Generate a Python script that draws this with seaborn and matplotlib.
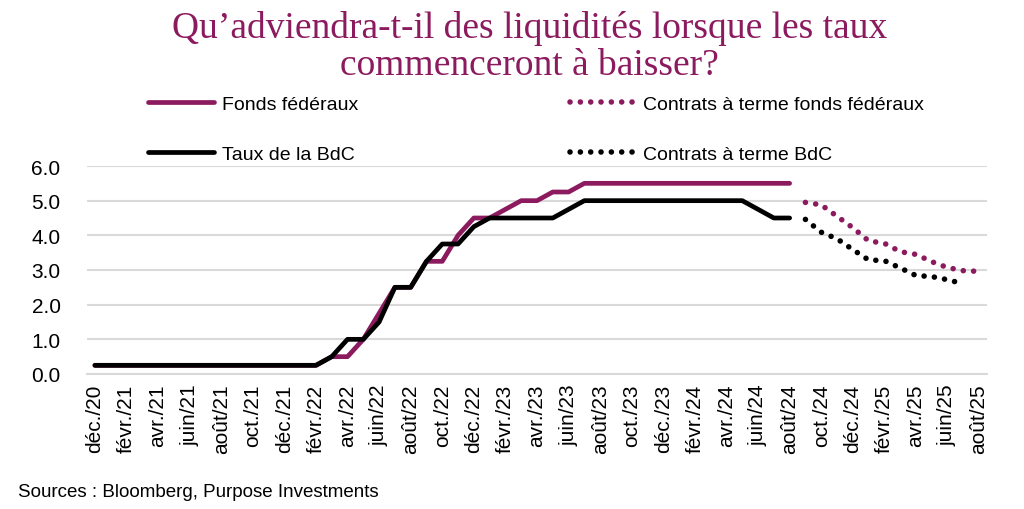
import matplotlib
matplotlib.use("Agg")
import matplotlib.pyplot as plt
import seaborn as sns
import pandas as pd

# ------------------------------------------------------------
# DONNEES (mensuel dec. 2020 -> aout 2025)
# ------------------------------------------------------------
TICK_LABELS = [
    "déc./20", "févr./21", "avr./21", "juin/21", "août/21", "oct./21",
    "déc./21", "févr./22", "avr./22", "juin/22", "août/22", "oct./22",
    "déc./22", "févr./23", "avr./23", "juin/23", "août/23", "oct./23",
    "déc./23", "févr./24", "avr./24", "juin/24", "août/24", "oct./24",
    "déc./24", "févr./25", "avr./25", "juin/25", "août/25",
]

# taux directeurs observes (dec./20 -> aout/24)
FONDS_FED = [
    0.25, 0.25, 0.25, 0.25, 0.25, 0.25, 0.25, 0.25, 0.25, 0.25,
    0.25, 0.25, 0.25, 0.25, 0.25, 0.50, 0.50, 1.00, 1.75, 2.50,
    2.50, 3.25, 3.25, 4.00, 4.50, 4.50, 4.75, 5.00, 5.00, 5.25,
    5.25, 5.50, 5.50, 5.50, 5.50, 5.50, 5.50, 5.50, 5.50, 5.50,
    5.50, 5.50, 5.50, 5.50, 5.50,
]
TAUX_BDC = [
    0.25, 0.25, 0.25, 0.25, 0.25, 0.25, 0.25, 0.25, 0.25, 0.25,
    0.25, 0.25, 0.25, 0.25, 0.25, 0.50, 1.00, 1.00, 1.50, 2.50,
    2.50, 3.25, 3.75, 3.75, 4.25, 4.50, 4.50, 4.50, 4.50, 4.50,
    4.75, 5.00, 5.00, 5.00, 5.00, 5.00, 5.00, 5.00, 5.00, 5.00,
    5.00, 5.00, 4.75, 4.50, 4.50,
]

# contrats a terme (sept./24 -> ...)
FUT_FED = [4.95, 4.88, 4.55, 4.22, 3.84, 3.77, 3.53, 3.45, 3.24, 3.07, 2.98, 2.96]
FUT_BDC = [4.46, 4.09, 3.90, 3.59, 3.29, 3.27, 3.06, 2.84, 2.81, 2.72, 2.60]

DEBUT_FUT = len(FONDS_FED)   # premier mois des contrats a terme
N_MOIS = DEBUT_FUT + len(FUT_FED)

# ------------------------------------------------------------
# STYLE
# ------------------------------------------------------------
sns.set_theme(style="white")
plt.rcParams["font.family"] = ["Liberation Sans", "DejaVu Sans"]
plt.rcParams["text.color"] = "#000000"

PURPLE = "#8C1A5E"
BLACK = "#000000"
GRID = "#D9D9D9"

fig = plt.figure(figsize=(10.24, 5.10), dpi=100)
ax = fig.add_axes([87 / 1024, 1 - 375 / 510, 900 / 1024, 208 / 510])

series = [
    ("Fonds fédéraux", range(0, DEBUT_FUT), FONDS_FED, PURPLE, "-"),
    ("Taux de la BdC", range(0, DEBUT_FUT), TAUX_BDC, BLACK, "-"),
    ("Contrats à terme fonds fédéraux", range(DEBUT_FUT, DEBUT_FUT + len(FUT_FED)), FUT_FED, PURPLE, ":"),
    ("Contrats à terme BdC", range(DEBUT_FUT, DEBUT_FUT + len(FUT_BDC)), FUT_BDC, BLACK, ":"),
]

for nom, xs, ys, col, ls in series:
    df = pd.DataFrame({"mois": list(xs), "taux": ys})
    if ls == "-":
        sns.lineplot(data=df, x="mois", y="taux", ax=ax, color=col, lw=3.4,
                     solid_capstyle="round", solid_joinstyle="round",
                     label=nom, zorder=3)
    else:
        sns.lineplot(data=df, x="mois", y="taux", ax=ax, color=col, lw=4.0,
                     linestyle=(0, (0.01, 1.85)), dash_capstyle="round",
                     label=nom, zorder=3)

# axes
ax.set_xlim(-0.5, N_MOIS - 0.5)
ax.set_ylim(0, 6)
ax.set_yticks([0, 1, 2, 3, 4, 5, 6])
ax.set_yticklabels([f"{v:.1f}" for v in [0, 1, 2, 3, 4, 5, 6]])
ax.yaxis.grid(True, color=GRID, lw=1.5, zorder=0)
ax.xaxis.grid(False)
ax.set_xlabel("")
ax.set_ylabel("")

ax.set_xticks(range(0, N_MOIS, 2))
ax.set_xticklabels(TICK_LABELS, rotation=90, va="top", ha="center")
ax.set_xticks([i - 0.5 for i in range(0, N_MOIS, 2)], minor=True)
ax.tick_params(axis="x", which="major", length=0, pad=7, labelsize=15, colors="#000000")
ax.tick_params(axis="x", which="minor", length=6, width=1.2, color=GRID, direction="out")
ax.tick_params(axis="y", length=0, pad=19, labelsize=15, colors="#000000")

for s in ["top", "right", "left"]:
    ax.spines[s].set_visible(False)
ax.spines["bottom"].set_color(GRID)
ax.spines["bottom"].set_linewidth(1.5)
ax.spines["bottom"].set_zorder(1)

# legende (2 colonnes, au-dessus du graphique)
h, l = ax.get_legend_handles_labels()
ax.legend_.remove()
leg = fig.legend(h, l, ncol=2, loc="upper left",
                 bbox_to_anchor=(148 / 1024, 1 - 96 / 510), frameon=False,
                 fontsize=14, handlelength=3.4, handletextpad=0.38,
                 columnspacing=10.9, labelspacing=1.68, borderpad=0,
                 borderaxespad=0)
for t in leg.get_texts():
    t.set_color("#000000")

# titre
fig.text(0.517, 1 - 47 / 510,
         "Qu’adviendra-t-il des liquidités lorsque les taux\ncommenceront à baisser?",
         ha="center", va="center", fontsize=27, color=PURPLE,
         family=["Liberation Serif", "DejaVu Serif"], linespacing=1.12)

# source
fig.text(18 / 1024, 1 - 493 / 510, "Sources : Bloomberg, Purpose Investments",
         ha="left", va="center", fontsize=13.5, color="#000000")

fig.savefig("out.png", dpi=100, facecolor="white")
plt.close(fig)
